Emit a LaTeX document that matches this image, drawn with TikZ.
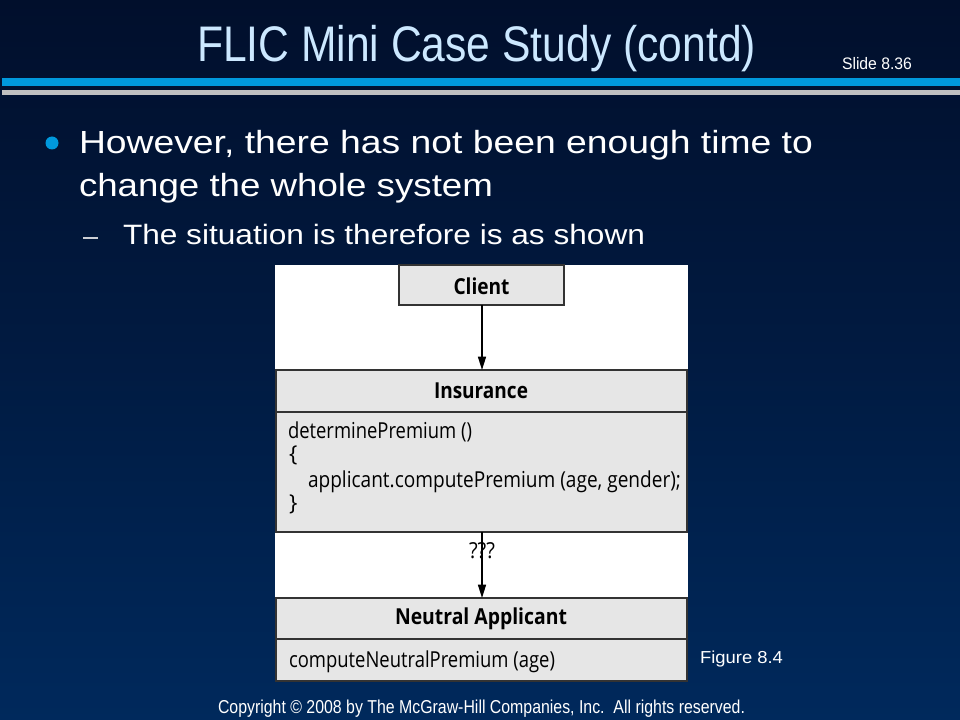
\documentclass[tikz,border=0pt]{standalone}
\usepackage{fontspec}
\setmainfont{Liberation Sans}
\newfontfamily\figfont{Open Sans}
\usetikzlibrary{arrows.meta}
\newlength\mypx
\setlength\mypx{0.75pt}
\newcommand\fitw[2]{\resizebox{#1\mypx}{\height}{#2}}
\definecolor{bgtop}{HTML}{010F2C}
\definecolor{bgbot}{HTML}{00295C}
\definecolor{titlecol}{HTML}{CCE8FF}
\definecolor{barblue}{HTML}{0099DD}
\definecolor{bargray}{HTML}{C0C0C0}
\definecolor{boxfill}{HTML}{E6E6E6}
\definecolor{boxline}{HTML}{333333}
\tikzset{
  txt/.style={inner sep=0pt, outer sep=0pt, anchor=base west},
  ctxt/.style={inner sep=0pt, outer sep=0pt, anchor=center},
  umlbox/.style={draw=boxline, fill=boxfill, line width=1.1pt},
  conn/.style={draw=black, line width=1.1pt, -{Triangle[length=10pt,width=6pt]}},
  boldlbl/.style={ctxt, font=\figfont\bfseries\fontsize{16.5}{18}\selectfont},
  methtxt/.style={txt, font=\figfont\fontsize{16.5}{18}\selectfont},
}
\begin{document}
\begin{tikzpicture}[x=0.75pt,y=-0.75pt]
\useasboundingbox (0,0) rectangle (960,720);
\shade[top color=bgtop, bottom color=bgbot, middle color=bgtop!55!bgbot] (0,0) rectangle (960,720);
% header
\node[txt, text=titlecol, font=\fontsize{37.5}{40}\selectfont] (title) at (197,62) {\fitw{559}{FLIC Mini Case Study (contd)}};
\node[txt, text=white, font=\fontsize{12.5}{14}\selectfont] (slide) at (842,70) {\fitw{70}{Slide 8.36}};
\fill[barblue] (2,78) rectangle (960,86);
\fill[bargray] (2,90) rectangle (960,95);
% bullets
\fill[barblue] (52,143) circle (6.5);
\node[txt, text=white, font=\fontsize{24}{28}\selectfont] (l1) at (79,154) {\fitw{734}{However, there has not been enough time to}};
\node[txt, text=white, font=\fontsize{24}{28}\selectfont] (l2) at (79,197) {\fitw{414}{change the whole system}};
\fill[white!80!bgtop] (83,237.5) rectangle (98,239);
\node[txt, text=white, font=\fontsize{21}{24}\selectfont] (l3) at (123,245) {\fitw{522}{The situation is therefore is as shown}};
% figure
\fill[white] (275,265) rectangle (688,598);
\draw[umlbox] (399,265) rectangle (564,305);
\node[boldlbl] (client) at (481.5,286) {\fitw{56}{Client}};
\coordinate (clientB) at (482,305);
\draw[umlbox] (276,370) rectangle (687,532);
\draw[boxline, line width=1.1pt] (276,412) -- (687,412);
\coordinate (insT) at (482,370);
\coordinate (insB) at (482,532);
\node[boldlbl] (ins) at (481,391) {\fitw{94}{Insurance}};
\node[methtxt] (m1) at (288,438) {\fitw{184}{determinePremium ()}};
\node[methtxt] (m2) at (289,461) {\{};
\node[methtxt] (m3) at (308,487) {\fitw{373}{applicant.computePremium (age, gender);}};
\node[methtxt] (m4) at (289,510) {\}};
\draw[umlbox] (276,598) rectangle (687,681);
\draw[boxline, line width=1.1pt] (276,639) -- (687,639);
\coordinate (neuT) at (482,598);
\node[boldlbl] (neu) at (481,619) {\fitw{172}{Neutral Applicant}};
\node[methtxt] (m5) at (289,667) {\fitw{266}{computeNeutralPremium (age)}};
\draw[conn] (clientB) -- (insT);
\draw[conn] (insB) -- (neuT);
\node[ctxt, font=\figfont\fontsize{16.5}{18}\selectfont] (qqq) at (482,551) {\fitw{26}{???}};
% footer
\node[txt, text=white, font=\fontsize{13}{15}\selectfont] (fig) at (700,663) {\fitw{83}{Figure 8.4}};
\node[txt, text=white, font=\fontsize{14}{16}\selectfont] (copy) at (218,713) {\fitw{527}{Copyright \textcopyright{} 2008 by The McGraw-Hill Companies, Inc.\ \ All rights reserved.}};
\end{tikzpicture}
\end{document}
